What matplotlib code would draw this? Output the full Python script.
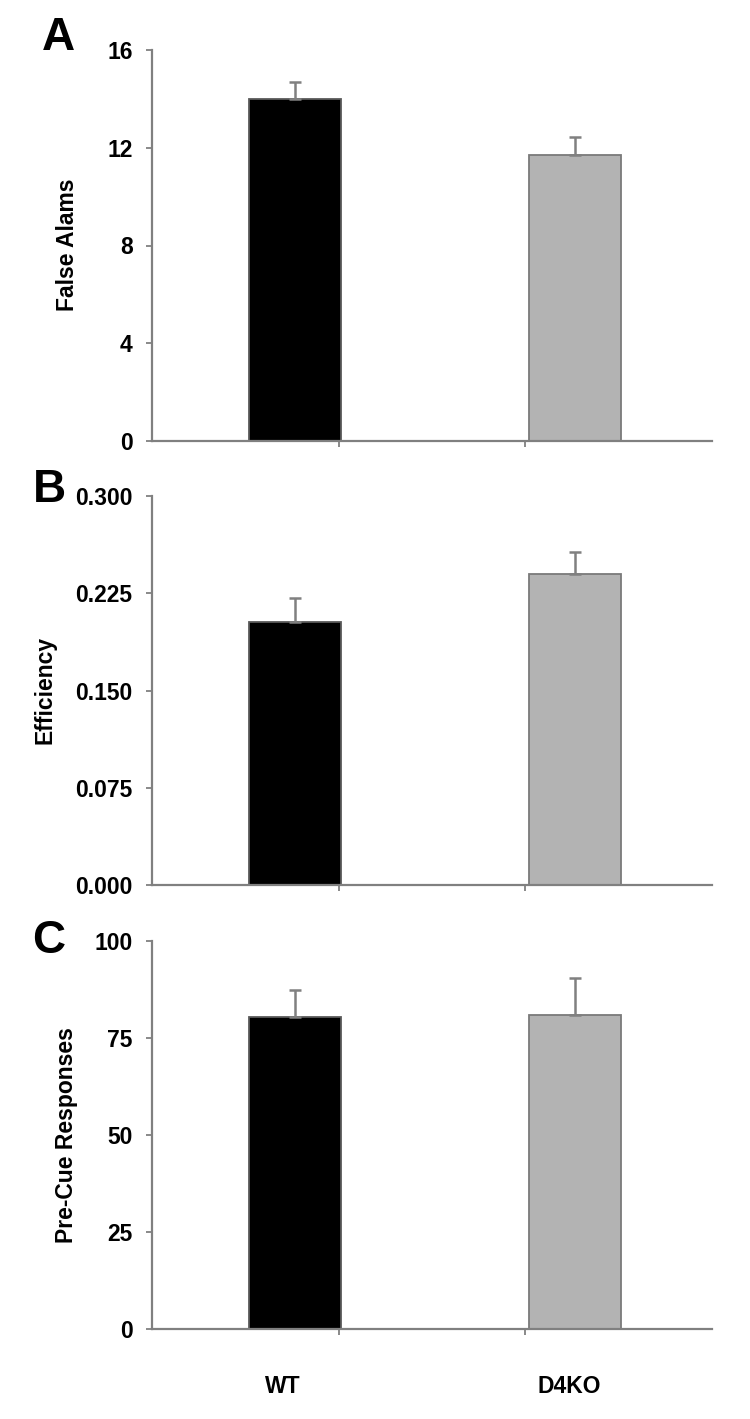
import matplotlib
matplotlib.use("Agg")
import matplotlib.pyplot as plt
import numpy as np

plt.rcParams['font.family'] = ['Liberation Sans', 'DejaVu Sans']

groups = ["WT", "D4KO"]
false_alarms = [14.0, 11.7]
false_alarms_err = [0.7, 0.75]
efficiency = [0.203, 0.240]
efficiency_err = [0.018, 0.017]
precue = [80.5, 81.0]
precue_err = [7.0, 9.5]

panel_letters = ["A", "B", "C"]
ylabels = ["False Alams", "Efficiency", "Pre-Cue Responses"]
yticks = [[0, 4, 8, 12, 16], [0.0, 0.075, 0.15, 0.225, 0.3], [0, 25, 50, 75, 100]]
yticklabels = [["0", "4", "8", "12", "16"],
               ["0.000", "0.075", "0.150", "0.225", "0.300"],
               ["0", "25", "50", "75", "100"]]
values = [false_alarms, efficiency, precue]
errors = [false_alarms_err, efficiency_err, precue_err]

fig = plt.figure(figsize=(7.5, 14.19), dpi=100)
W, H = 750, 1419
left_px, right_px = 152, 712
panels_px = [(50, 441), (496, 885), (941, 1329)]
letter_pos = [(58, 38), (49, 490), (49, 941)]
ylabel_pos = [(67, 245), (45, 690), (66, 1135)]

spine_c = "#808080"
bar_colors = ["#000000", "#b3b3b3"]
bar_edges = ["#5a5a5a", "#7a7a7a"]
xpos = [0.765, 2.265]
label_x = [0.70, 2.235]

for i in range(3):
    top, bot = panels_px[i]
    ax = fig.add_axes([left_px / W, 1 - bot / H, (right_px - left_px) / W, (bot - top) / H])
    ax.bar(xpos, values[i], width=0.495, color=bar_colors, edgecolor=bar_edges, linewidth=1.3, zorder=2)
    ax.errorbar(xpos, values[i], yerr=[[0, 0], errors[i]], fmt="none", ecolor=spine_c,
                elinewidth=1.8, capsize=4.5, capthick=1.8, zorder=3)
    ax.set_xlim(0, 3)
    ax.set_ylim(yticks[i][0], yticks[i][-1])
    ax.set_yticks(yticks[i])
    ax.set_yticklabels(yticklabels[i], fontsize=16.5, fontweight="bold")
    ax.set_xticks([1, 2])
    ax.set_xticklabels([])
    for s in ["top", "right"]:
        ax.spines[s].set_visible(False)
    for s in ["left", "bottom"]:
        ax.spines[s].set_color(spine_c)
        ax.spines[s].set_linewidth(1.6)
    ax.tick_params(axis="both", color=spine_c, length=4, width=1.3, direction="out")
    ax.tick_params(axis="y", pad=10)
    lx, ly = letter_pos[i]
    fig.text(lx / W, 1 - ly / H, panel_letters[i], fontsize=33, fontweight="bold",
             ha="center", va="center")
    yx, yy = ylabel_pos[i]
    fig.text(yx / W, 1 - yy / H, ylabels[i], fontsize=16.5, fontweight="bold",
             rotation=90, ha="center", va="center")
    if i == 2:
        for x, g in zip(label_x, groups):
            ax.text(x, -0.149, g, transform=ax.get_xaxis_transform(), fontsize=16.5,
                    fontweight="bold", ha="center", va="center")

fig.savefig("out.png", dpi=100, facecolor="white")
